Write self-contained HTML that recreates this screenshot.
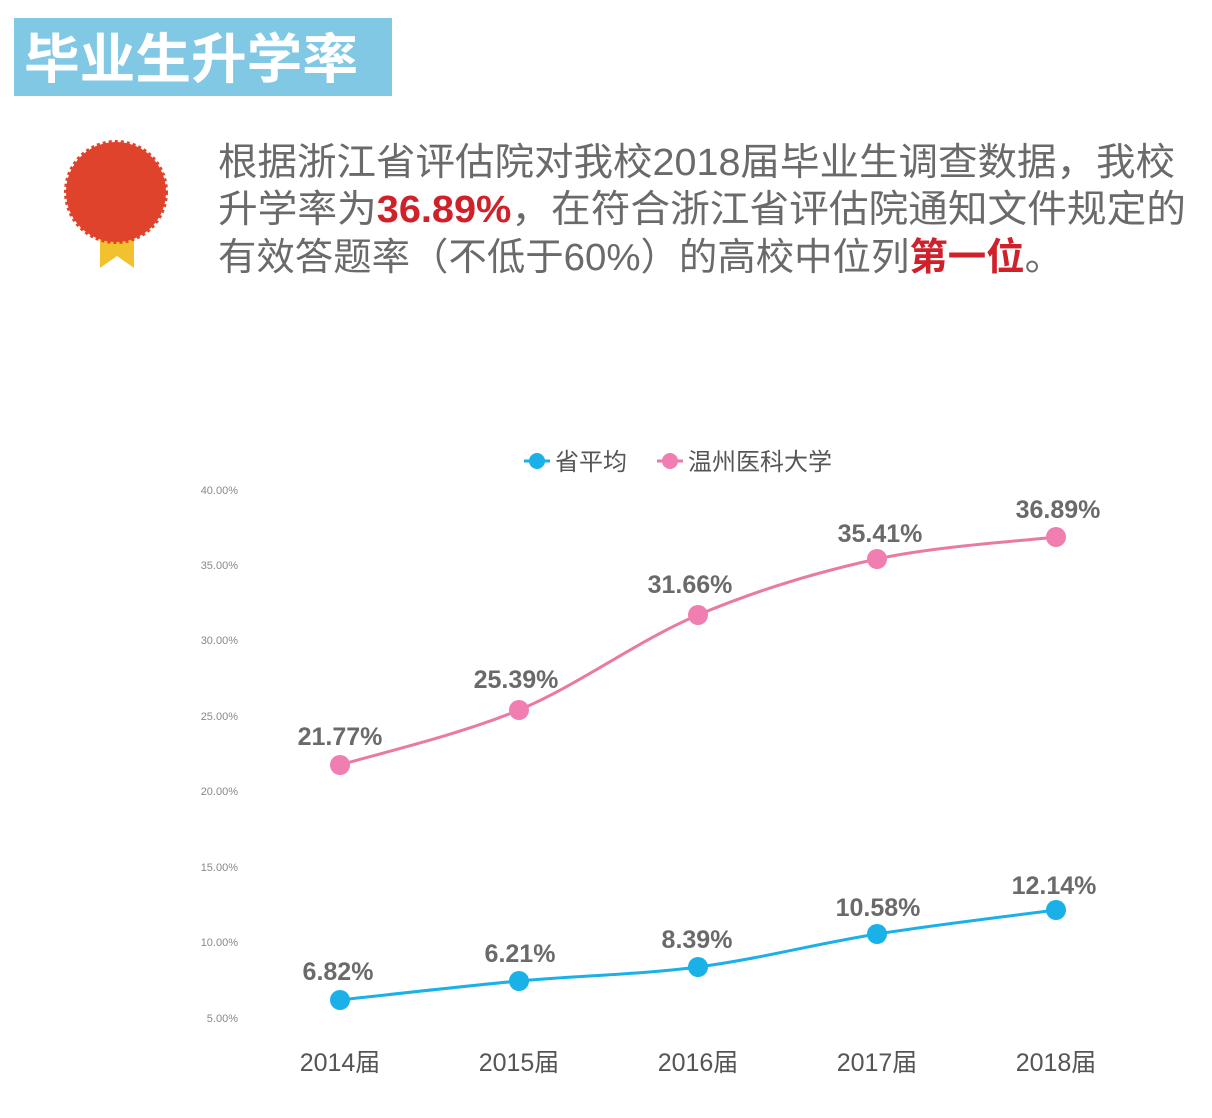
<!DOCTYPE html>
<html><head><meta charset="utf-8"><style>
html,body{margin:0;padding:0;background:#fff;}
svg{display:block;}
text{font-family:"Liberation Sans","Noto Sans CJK SC",sans-serif;}
</style></head><body>
<svg width="1212" height="1118" viewBox="0 0 1212 1118" xmlns="http://www.w3.org/2000/svg">
<rect width="1212" height="1118" fill="#fff"/>
<rect x="14" y="18" width="378" height="78" fill="#80c8e3"/>
<text x="24" y="78" font-size="54" font-weight="bold" fill="#fff" textLength="334" lengthAdjust="spacingAndGlyphs">毕业生升学率</text>
<!-- medal -->
<path d="M100 222 L100 268 L117 256 L134 268 L134 222 Z" fill="#f2c12e"/>
<circle cx="116" cy="192" r="50" fill="#e0432b" stroke="#e0432b" stroke-width="4" stroke-dasharray="3 3"/>
<g font-size="38" fill="#6a6a6a">
<text x="218" y="175" textLength="957" lengthAdjust="spacingAndGlyphs">根据浙江省评估院对我校2018届毕业生调查数据，我校</text>
<text x="218" y="222" textLength="968" lengthAdjust="spacingAndGlyphs">升学率为<tspan fill="#d0202a" font-weight="bold">36.89%</tspan>，在符合浙江省评估院通知文件规定的</text>
<text x="218" y="270" textLength="845" lengthAdjust="spacingAndGlyphs">有效答题率（不低于60%）的高校中位列<tspan fill="#d0202a" font-weight="bold">第一位</tspan>。</text>
</g>
<!-- legend -->
<line x1="524" y1="461" x2="550" y2="461" stroke="#1ab0e8" stroke-width="3"/>
<circle cx="537" cy="461" r="8" fill="#1ab0e8"/>
<text x="555" y="470" font-size="24" fill="#555">省平均</text>
<line x1="657" y1="461" x2="683" y2="461" stroke="#e87aa4" stroke-width="3"/>
<circle cx="670" cy="461" r="8" fill="#f07eb0"/>
<text x="688" y="470" font-size="24" fill="#555">温州医科大学</text>
<!-- y axis -->
<g font-size="11" fill="#888" text-anchor="end">
<text x="238" y="494">40.00%</text>
<text x="238" y="569">35.00%</text>
<text x="238" y="644">30.00%</text>
<text x="238" y="720">25.00%</text>
<text x="238" y="795">20.00%</text>
<text x="238" y="871">15.00%</text>
<text x="238" y="946">10.00%</text>
<text x="238" y="1022">5.00%</text>
</g>
<!-- x axis -->
<g font-size="25" fill="#555" text-anchor="middle">
<text x="340" y="1071">2014届</text>
<text x="519" y="1071">2015届</text>
<text x="698" y="1071">2016届</text>
<text x="877" y="1071">2017届</text>
<text x="1056" y="1071">2018届</text>
</g>
<!-- pink -->
<path d="M340 765 C369.8 755.8 459.3 735 519 710 C578.7 685 638.3 640.2 698 615 C757.7 589.8 817.3 572 877 559 C936.7 546 1026.2 540.7 1056 537" fill="none" stroke="#e87aa4" stroke-width="3"/>
<g fill="#f07eb0">
<circle cx="340" cy="765" r="10"/><circle cx="519" cy="710" r="10"/><circle cx="698" cy="615" r="10"/><circle cx="877" cy="559" r="10"/><circle cx="1056" cy="537" r="10"/>
</g>
<!-- blue -->
<path d="M340 1000 C369.8 996.8 459.3 986.5 519 981 C578.7 975.5 638.3 974.8 698 967 C757.7 959.2 817.3 943.5 877 934 C936.7 924.5 1026.2 914 1056 910" fill="none" stroke="#1ab0e8" stroke-width="3"/>
<g fill="#1ab0e8">
<circle cx="340" cy="1000" r="10"/><circle cx="519" cy="981" r="10"/><circle cx="698" cy="967" r="10"/><circle cx="877" cy="934" r="10"/><circle cx="1056" cy="910" r="10"/>
</g>
<g font-size="25" font-weight="bold" fill="#6a6a6a" text-anchor="middle">
<text x="340" y="745">21.77%</text>
<text x="516" y="688">25.39%</text>
<text x="690" y="593">31.66%</text>
<text x="880" y="542">35.41%</text>
<text x="1058" y="518">36.89%</text>
<text x="338" y="980">6.82%</text>
<text x="520" y="962">6.21%</text>
<text x="697" y="948">8.39%</text>
<text x="878" y="916">10.58%</text>
<text x="1054" y="894">12.14%</text>
</g>
</svg>
</body></html>
